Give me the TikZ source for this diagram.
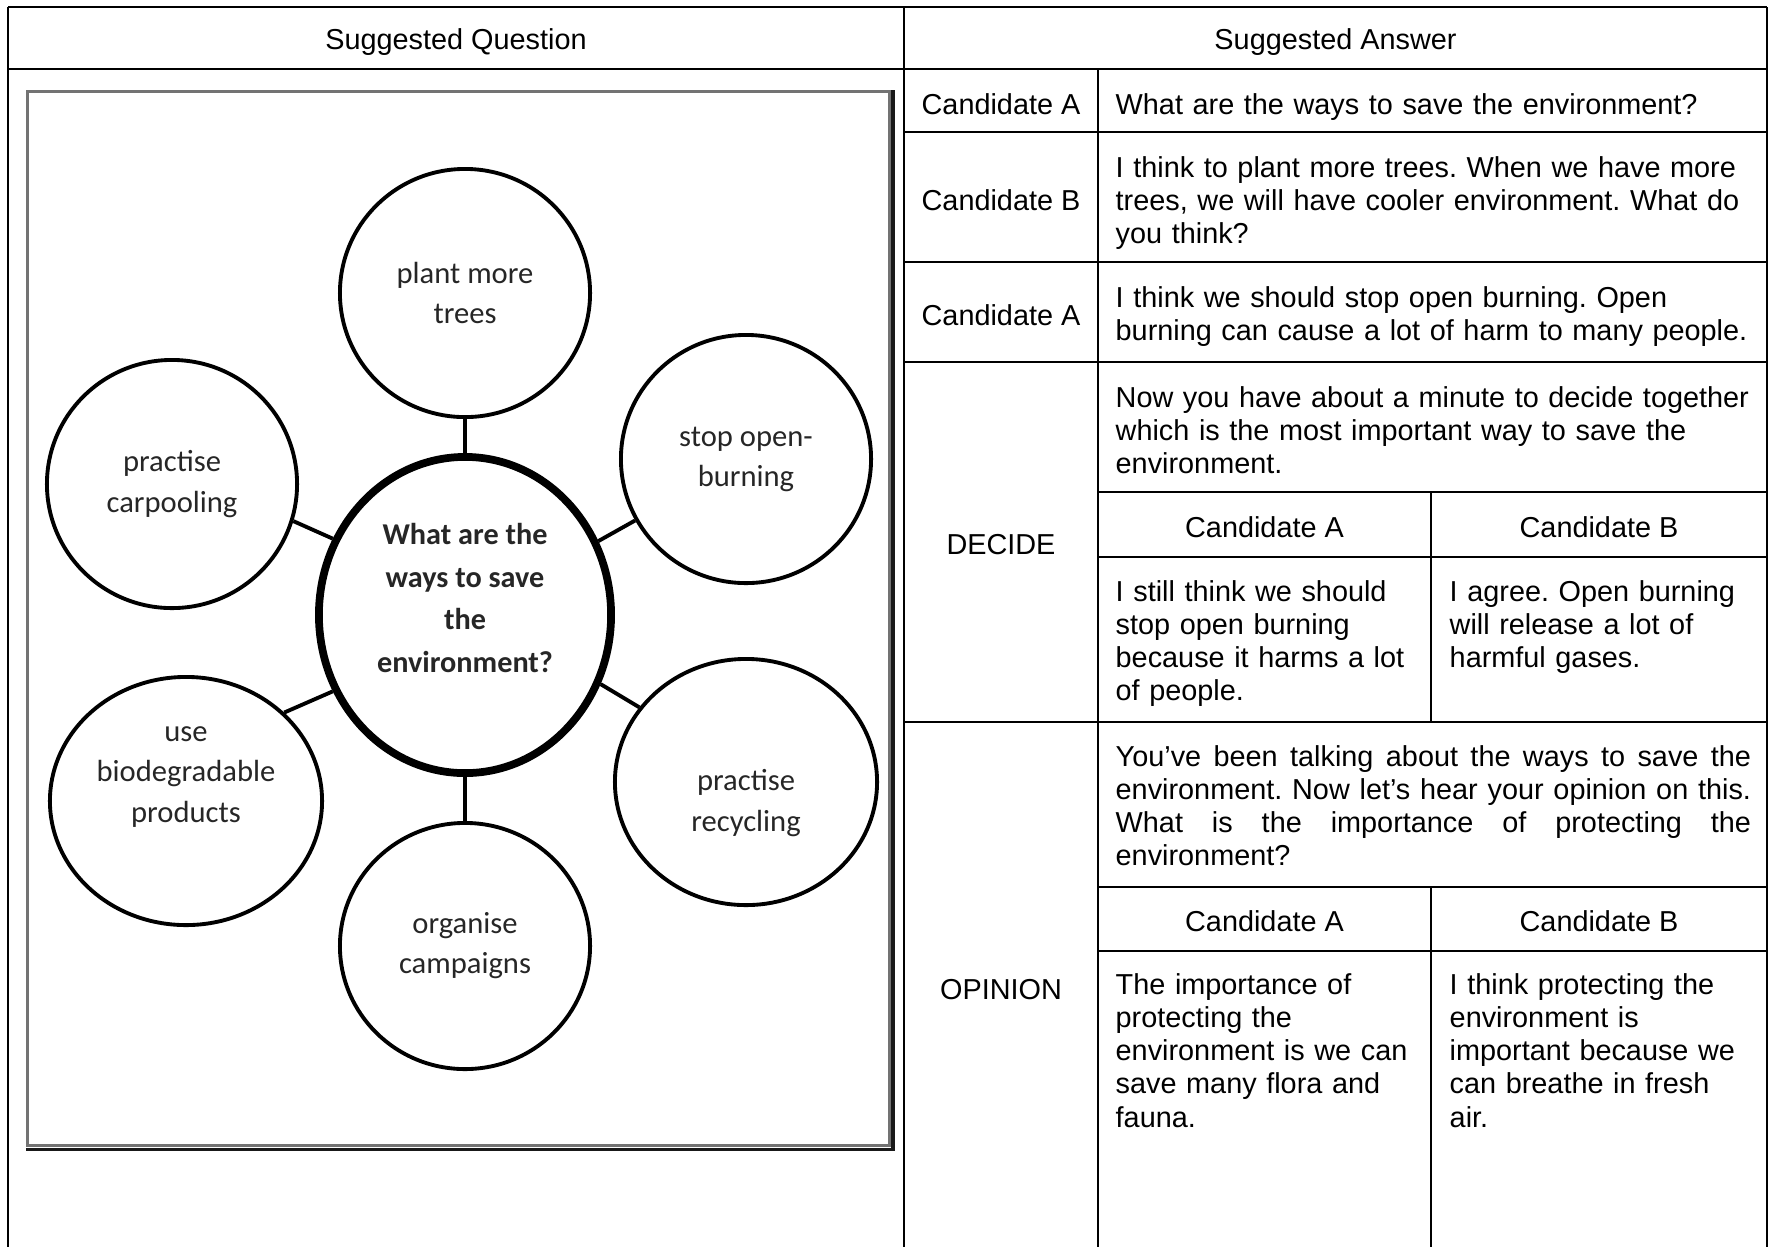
\documentclass[tikz,border=0pt]{standalone}
\usepackage{fontspec}
\setmainfont{Liberation Sans}
\newfontfamily\mapfont{Carlito}
\usetikzlibrary{shapes.geometric,positioning}
\frenchspacing
\hyphenpenalty=10000

\begin{document}
\begin{tikzpicture}[x=0.01cm, y=-0.01cm,
    grid/.style={line width=0.6pt, black},
    cell/.style={font=\fontsize{8.2}{9.47}\selectfont, inner sep=0pt},
    celltext/.style={cell, anchor=base west, text width=#1, align=left},
    celltext/.default=6.6cm,
    idea/.style={shape=ellipse, draw, line width=1.1pt, minimum width=2.5cm, minimum height=2.48cm, inner sep=0pt, align=center, text=black!85, font=\mapfont\fontsize{8.7}{11.4}\selectfont},
    ideatext/.style={inner sep=0pt, align=center, text=black!85, font=\mapfont\fontsize{8.7}{11.4}\selectfont},
    link/.style={line width=1.1pt}]
    \useasboundingbox (0,0) rectangle (1769,1247);
    \begin{scope}
        \draw[grid] (8,7) -- (1767,7);
        \draw[grid] (8,69) -- (1767,69);
        \draw[grid] (8,7) -- (8,1247);
        \draw[grid] (904,7) -- (904,1247);
        \draw[grid] (1767,7) -- (1767,1247);
        \draw[grid] (1098,69) -- (1098,1247);
        \foreach \y in {132,262,362,722} \draw[grid] (904,\y) -- (1767,\y);
        \foreach \y in {492,557,887,951} \draw[grid] (1098,\y) -- (1767,\y);
        \draw[grid] (1431,492) -- (1431,722);
        \draw[grid] (1431,887) -- (1431,1247);
    \end{scope}
    \node[cell] (qhead) at (456,42) {Suggested Question};
    \node[cell] (ahead) at (1335.5,42) {Suggested Answer};
    % picture frame
    \draw[line width=0.9pt, black!55] (27.5,91.5) rectangle (890,1145.5);
    \draw[line width=1.1pt, black!90] (893,90) -- (893,1149.5) -- (26,1149.5);
    \node[idea, line width=2.2pt, minimum width=2.92cm, minimum height=3.16cm] (question) at (465,615) {};
    \node[ideatext, font=\mapfont\bfseries\fontsize{8.6}{12.2}\selectfont, yshift=0.17cm] (questiontxt) at (question) {What are the\\ways to save\\the\\environment?};
    \node[idea] (plant) at (465,293) {plant more\\trees};
    \node[idea] (burning) at (746,459) {stop open-\\burning};
    \node[idea] (carpool) at (172,484) {practise\\carpooling};
    \node[idea, minimum width=2.72cm] (biodeg) at (186,801) {};
    \node[ideatext, yshift=0.24cm] (biodegtxt) at (biodeg) {use\\biodegradable\\products};
    \node[idea, minimum width=2.62cm, minimum height=2.46cm] (recycle) at (746,782) {};
    \node[ideatext, yshift=-0.21cm] (recycletxt) at (recycle) {practise\\recycling};
    \node[idea, minimum height=2.46cm] (campaign) at (465,946) {organise\\campaigns};
    \draw[link] (question) -- (plant);
    \draw[link] (question.29) -- (burning.209);
    \draw[link] (question.150) -- (carpool.-17);
    \draw[link] (question.210) -- (biodeg.42);
    \draw[link] (question.-27) -- (recycle.145);
    \draw[link] (question) -- (campaign);
    % answers
    \node[cell] (spk1) at (1001,104) {Candidate A};
    \node[celltext] (ans1) at (1115,114) {What are the ways to save the environment?};
    \node[cell] (spk2) at (1001,200) {Candidate B};
    \node[celltext] (ans2) at (1115,177) {I think to plant more trees. When we have more\\trees, we will have cooler environment. What do\\you think?};
    \node[cell] (spk3) at (1001,315) {Candidate A};
    \node[celltext] (ans3) at (1115,307) {I think we should stop open burning. Open\\burning can cause a lot of harm to many people.};
    \node[cell] (decide) at (1001,545) {DECIDE};
    \node[celltext] (decideq) at (1115,407) {Now you have about a minute to decide together\\which is the most important way to save the\\environment.};
    \node[cell] (decA) at (1264.5,527.5) {Candidate A};
    \node[cell] (decB) at (1599,527.5) {Candidate B};
    \node[celltext=3.1cm] (decAtxt) at (1115,601) {I still think we should\\stop open burning\\because it harms a lot\\of people.};
    \node[celltext=3.1cm] (decBtxt) at (1449,601) {I agree. Open burning\\will release a lot of\\harmful gases.};
    \node[cell] (opinion) at (1001,990) {OPINION};
    \node[celltext=6.35cm, align=justify] (opinionq) at (1115,766) {You’ve been talking about the ways to save the\linebreak environment. Now let’s hear your opinion on this.\linebreak What is the importance of protecting the\linebreak environment?};
    \node[cell] (opA) at (1264.5,921) {Candidate A};
    \node[cell] (opB) at (1599,921) {Candidate B};
    \node[celltext=3.1cm] (opAtxt) at (1115,994) {The importance of\\protecting the\\environment is we can\\save many flora and\\fauna.};
    \node[celltext=3.1cm] (opBtxt) at (1449,994) {I think protecting the\\environment is\\important because we\\can breathe in fresh\\air.};
\end{tikzpicture}
\end{document}
